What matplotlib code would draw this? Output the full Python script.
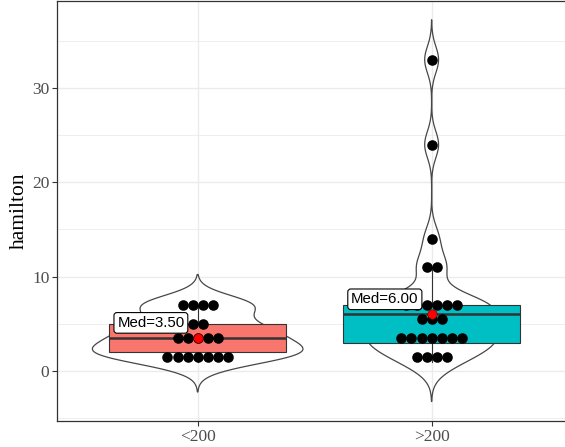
import numpy as np
import matplotlib
matplotlib.use("Agg")
import matplotlib.pyplot as plt

# hamilton scores by group
groups = ["<200", ">200"]
low_vals = [1, 1, 2, 2, 2, 2, 2, 3, 3, 4, 4, 4, 5, 5, 7, 7, 7, 7]
high_vals = [1, 1, 2, 2, 3, 3, 3, 4, 4, 4, 4, 5, 6, 6, 7, 7, 7, 7, 7, 7,
             11, 11, 14, 24, 33]
fills = ["#F8766D", "#00BFC4"]

data = [np.array(low_vals, float), np.array(high_vals, float)]


def nrd0(v):
    """R's default bandwidth"""
    sd = np.std(v, ddof=1)
    iqr = np.subtract(*np.percentile(v, [75, 25]))
    lo = min(sd, iqr / 1.34)
    return 0.9 * lo * len(v) ** -0.2


def density(v):
    bw = nrd0(v)
    grid = np.linspace(v.min() - 3 * bw, v.max() + 3 * bw, 512)
    d = np.exp(-0.5 * ((grid[:, None] - v[None, :]) / bw) ** 2).sum(axis=1)
    d /= len(v) * bw * np.sqrt(2 * np.pi)
    return grid, d


def dot_bins(v, width):
    """dot-density binning like geom_dotplot"""
    v = np.sort(v)
    centers, counts = [], []
    i = 0
    while i < len(v):
        j = i
        while j < len(v) and v[j] <= v[i] + width:
            j += 1
        centers.append((v[i] + v[j - 1]) / 2)
        counts.append(j - i)
        i = j
    return centers, counts


dens = [density(v) for v in data]
maxd = max(d.max() for g, d in dens)
ylo = min(g.min() for g, d in dens)
yhi = max(g.max() for g, d in dens)
pad = 0.05 * (yhi - ylo)

fig = plt.figure(figsize=(5.65, 4.47), dpi=100)
ax = fig.add_axes([57.3 / 565, 26.4 / 447, 514.7 / 565, 420.0 / 447])

# violins
for i, (g, d) in enumerate(dens):
    half = 0.45 * d / maxd
    ax.fill(np.r_[i - half, (i + half)[::-1]], np.r_[g, g[::-1]],
            facecolor="none", edgecolor="#474747", lw=0.9, zorder=2)

# boxes
bp = ax.boxplot(data, positions=[0, 1], widths=0.756, patch_artist=True,
                showfliers=False, showcaps=False, whis=1.5, zorder=3)
for patch, c in zip(bp["boxes"], fills):
    patch.set_facecolor(c)
    patch.set_edgecolor("#333333")
    patch.set_linewidth(0.8)
for w in bp["whiskers"]:
    w.set_color("#333333")
    w.set_linewidth(0.8)
for m in bp["medians"]:
    m.set_color("#333333")
    m.set_linewidth(1.8)

ax.set_xlim(-0.6, 1.6)
ax.set_ylim(ylo - pad, yhi + pad)

# grid like theme_bw
ax.set_yticks([0, 10, 20, 30])
ax.set_yticks([-5, 5, 15, 25, 35], minor=True)
ax.set_xticks([0, 1])
ax.set_xticklabels(groups)
ax.grid(True, which="major", color="#EBEBEB", lw=1.0, zorder=0)
ax.grid(True, which="minor", axis="y", color="#EBEBEB", lw=0.6, zorder=0)
ax.set_axisbelow(True)

# dots
binwidth = (max(high_vals + low_vals) - min(high_vals + low_vals)) / 30.0
p0 = ax.transData.transform((0, 0))
p1 = ax.transData.transform((1, 1))
px_x = p1[0] - p0[0]
px_y = p1[1] - p0[1]
diam_px = binwidth * px_y
step_x = diam_px / px_x
d_pt = diam_px * 1.05 * 72.0 / fig.dpi
for i, v in enumerate(data):
    cs, ns = dot_bins(v, binwidth)
    for c, n in zip(cs, ns):
        xs = i + (np.arange(n) - (n - 1) / 2.0) * step_x
        ax.scatter(xs, [c] * n, s=d_pt ** 2, color="black", linewidths=0,
                   zorder=4)

# median point and label
for i, v in enumerate(data):
    med = np.median(v)
    ax.scatter([i], [med], s=(d_pt * 0.9) ** 2, color="red",
               edgecolors="#550000", linewidths=0.4, zorder=5)
    ax.text(i - 0.2, med + 1.6, "Med=%.2f" % med, ha="center", va="center",
            family="Liberation Sans", fontsize=10.8, color="black", zorder=6,
            bbox=dict(boxstyle="round,pad=0.22,rounding_size=0.2",
                      facecolor="white", edgecolor="black", lw=0.8))

for s in ax.spines.values():
    s.set_color("#333333")
    s.set_linewidth(0.9)
ax.tick_params(axis="both", which="major", colors="#333333", length=3.5,
               width=0.8, labelcolor="#4D4D4D", labelsize=12.5, pad=2.2)
ax.tick_params(axis="both", which="minor", length=0)
for lab in ax.get_xticklabels() + ax.get_yticklabels():
    lab.set_family("Liberation Serif")
ax.set_ylabel("hamilton", family="Liberation Serif", fontsize=15.5,
              color="black", labelpad=2)

fig.savefig("out.png", dpi=100)
